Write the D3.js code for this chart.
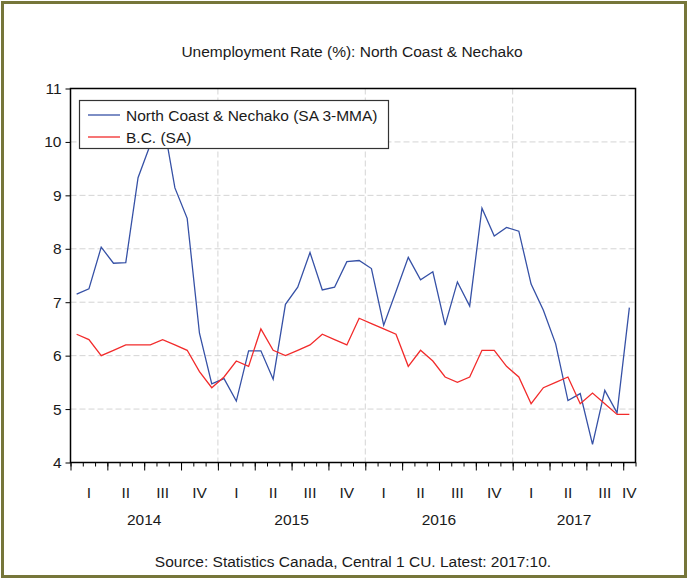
<!DOCTYPE html>
<html><head><meta charset="utf-8">
<script src="https://cdn.jsdelivr.net/npm/d3@7"></script>
<style>
body{margin:0;background:#fff}
svg{display:block}
text{font-family:"Liberation Sans",Arial,sans-serif;fill:#1a1a1a}
</style>
</head><body>
<svg id="chart" width="689" height="580"></svg>
<script>
const title = "Unemployment Rate (%): North Coast & Nechako";
const source = "Source: Statistics Canada, Central 1 CU. Latest: 2017:10.";
const years = ["2014", "2015", "2016", "2017"];
const quarters = ["I", "II", "III", "IV"];
const yTicks = [4, 5, 6, 7, 8, 9, 10, 11];
const seriesNames = ["North Coast & Nechako (SA 3-MMA)", "B.C. (SA)"];
const seriesColors = ["#3651a6", "#f22b2b"];
// monthly, Jan 2014 .. Oct 2017
const northCoast = [
  7.15, 7.25, 8.03, 7.73, 7.74, 9.33, 9.95, 10.45, 9.14, 8.57, 6.42, 5.47,
  5.57, 5.15, 6.09, 6.09, 5.56, 6.96, 7.28, 7.93, 7.23, 7.28, 7.76, 7.78,
  7.63, 6.57, 7.20, 7.84, 7.42, 7.57, 6.57, 7.38, 6.93, 8.76, 8.24, 8.40,
  8.33, 7.34, 6.85, 6.22, 5.16, 5.29, 4.34, 5.35, 4.93, 6.90
];
const bc = [
  6.4, 6.3, 6.0, 6.1, 6.2, 6.2, 6.2, 6.3, 6.2, 6.1, 5.7, 5.4,
  5.6, 5.9, 5.8, 6.5, 6.1, 6.0, 6.1, 6.2, 6.4, 6.3, 6.2, 6.7,
  6.6, 6.5, 6.4, 5.8, 6.1, 5.9, 5.6, 5.5, 5.6, 6.1, 6.1, 5.8,
  5.6, 5.1, 5.4, 5.5, 5.6, 5.1, 5.3, 5.1, 4.9, 4.9
];

const svg = d3.select("#chart");
const nMonths = northCoast.length;
const L = 70.5, R = 635.5, T = 88.5, B = 462.5;
const x = d3.scaleLinear().domain([0, nMonths]).range([L, R]);
const y = d3.scaleLinear().domain([4, 11]).range([B, T]);
const FS = "15.5px";

// outer frame
svg.append("rect").attr("x", 2.5).attr("y", 2.5).attr("width", 683).attr("height", 574)
  .attr("fill", "#fff").attr("stroke", "#76763a").attr("stroke-width", 3);

// title
svg.append("text").attr("x", 352).attr("y", 57).attr("text-anchor", "middle")
  .style("font-size", FS).text(title);

// gridlines
const grid = svg.append("g").attr("stroke", "#d4d4d4").attr("stroke-width", 1).attr("stroke-dasharray", "6,3");
yTicks.filter(v => v > 4 && v < 11).forEach(v => {
  grid.append("line").attr("x1", L).attr("x2", R).attr("y1", y(v)).attr("y2", y(v));
});
years.forEach((yr, i) => {
  if (i === 0) return;
  grid.append("line").attr("x1", x(i * 12)).attr("x2", x(i * 12)).attr("y1", T).attr("y2", B);
});

// y axis
const yAxis = svg.append("g").attr("transform", `translate(${L},0)`)
  .call(d3.axisLeft(y).tickValues(yTicks).tickSize(5).tickPadding(4).tickFormat(d3.format("d")));
yAxis.select(".domain").remove();
yAxis.selectAll("line").attr("stroke", "#000");
yAxis.selectAll("text").style("font-size", FS).attr("font-family", null);

// x axis month ticks
const xAxisM = svg.append("g").attr("transform", `translate(0,${B})`)
  .call(d3.axisBottom(x).tickValues(d3.range(0, nMonths + 1)).tickSize(4).tickFormat(""));
xAxisM.select(".domain").remove();
xAxisM.selectAll("line").attr("stroke", "#000");
const xAxisQ = svg.append("g").attr("transform", `translate(0,${B})`)
  .call(d3.axisBottom(x).tickValues(d3.range(0, nMonths + 1, 3)).tickSize(8).tickFormat(""));
xAxisQ.select(".domain").remove();
xAxisQ.selectAll("line").attr("stroke", "#000");

// quarter labels
years.forEach((yr, yi) => {
  quarters.forEach((q, qi) => {
    const s = yi * 12 + qi * 3;
    if (s >= nMonths) return;
    const e = Math.min(s + 3, nMonths);
    svg.append("text").attr("x", x((s + e) / 2)).attr("y", 498).attr("text-anchor", "middle")
      .style("font-size", FS).text(q);
  });
  const s = yi * 12, e = Math.min(s + 12, nMonths);
  svg.append("text").attr("x", x((s + e) / 2)).attr("y", 525).attr("text-anchor", "middle")
    .style("font-size", FS).text(yr);
});

// lines
const line = d3.line().x((d, i) => x(i + 0.5)).y(d => y(d));
svg.append("clipPath").attr("id", "clip").append("rect")
  .attr("x", L).attr("y", T).attr("width", R - L).attr("height", B - T);
[northCoast, bc].forEach((s, k) => {
  svg.append("path").datum(s).attr("d", line).attr("fill", "none")
    .attr("stroke", seriesColors[k]).attr("stroke-width", 1.3).attr("clip-path", "url(#clip)");
});

// plot frame
svg.append("rect").attr("x", L).attr("y", T).attr("width", R - L).attr("height", B - T)
  .attr("fill", "none").attr("stroke", "#000").attr("stroke-width", 1.5);

// legend
const lg = svg.append("g");
lg.append("rect").attr("x", 79.5).attr("y", 100.5).attr("width", 309).attr("height", 48)
  .attr("fill", "#fff").attr("stroke", "#333").attr("stroke-width", 1.2);
seriesNames.forEach((n, k) => {
  const yy = 115 + k * 22;
  lg.append("line").attr("x1", 88).attr("x2", 120).attr("y1", yy).attr("y2", yy)
    .attr("stroke", seriesColors[k]).attr("stroke-width", 1.3);
  lg.append("text").attr("x", 126).attr("y", yy + 5.5).style("font-size", FS).text(n);
});

// source
svg.append("text").attr("x", 353).attr("y", 567).attr("text-anchor", "middle")
  .style("font-size", FS).text(source);
</script>
</body></html>
